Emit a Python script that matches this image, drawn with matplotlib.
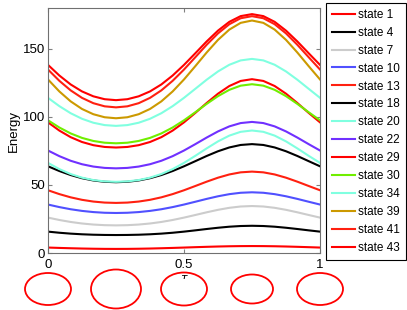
import matplotlib
matplotlib.use('Agg')
import matplotlib.pyplot as plt
from matplotlib.patches import Ellipse

plt.rcParams['font.family'] = ['Liberation Sans', 'DejaVu Sans']

# sample positions along the coordinate
x = [0, 0.0417, 0.0833, 0.125, 0.1667, 0.2083, 0.25, 0.2917, 0.3333,
     0.375, 0.4167, 0.4583, 0.5, 0.5417, 0.5833, 0.625, 0.6667, 0.7083,
     0.75, 0.7917, 0.8333, 0.875, 0.9167, 0.9583, 1]

# energy of each state
state_1 = [4.0, 3.73, 3.49, 3.28, 3.13, 3.03, 3.0, 3.03, 3.13, 3.28, 3.49, 3.73, 4.0,
           4.28, 4.54, 4.77, 4.95, 5.06, 5.1, 5.06, 4.95, 4.77, 4.54, 4.28, 4.0]
state_4 = [15.7, 14.88, 14.23, 13.75, 13.43, 13.26, 13.2, 13.26, 13.43, 13.75, 14.23, 14.88, 15.7,
           16.64, 17.63, 18.55, 19.32, 19.82, 20.0, 19.82, 19.32, 18.55, 17.63, 16.64, 15.7]
state_7 = [26.0, 24.26, 22.80, 21.68, 20.90, 20.45, 20.3, 20.45, 20.90, 21.68, 22.80, 24.26, 26.0,
           27.93, 29.90, 31.72, 33.20, 34.17, 34.5, 34.17, 33.20, 31.72, 29.90, 27.93, 26.0]
state_10 = [35.6, 33.73, 32.15, 30.93, 30.07, 29.56, 29.4, 29.56, 30.07, 30.93, 32.15, 33.73, 35.6,
            37.66, 39.75, 41.67, 43.23, 44.25, 44.6, 44.25, 43.23, 41.67, 39.75, 37.66, 35.6]
state_13 = [46.1, 43.27, 40.90, 39.07, 37.79, 37.04, 36.8, 37.04, 37.79, 39.07, 40.90, 43.27, 46.1,
            49.23, 52.40, 55.33, 57.71, 59.26, 59.8, 59.26, 57.71, 55.33, 52.40, 49.23, 46.1]
state_18 = [63.7, 60.23, 57.28, 54.95, 53.30, 52.32, 52.0, 52.32, 53.30, 54.95, 57.28, 60.23, 63.7,
            67.48, 71.28, 74.75, 77.55, 79.37, 80.0, 79.37, 77.55, 74.75, 71.28, 67.48, 63.7]
state_20 = [66.2, 61.65, 58.01, 55.35, 53.59, 52.61, 52.3, 52.61, 53.59, 55.35, 58.01, 61.65, 66.2,
            71.41, 76.86, 82.00, 86.24, 89.03, 90.0, 89.03, 86.24, 82.00, 76.86, 71.41, 66.2]
state_22 = [75.3, 71.15, 67.76, 65.22, 63.50, 62.52, 62.2, 62.52, 63.50, 65.22, 67.76, 71.15, 75.3,
            79.98, 84.81, 89.33, 93.03, 95.46, 96.3, 95.46, 93.03, 89.33, 84.81, 79.98, 75.3]
state_29 = [96.0, 89.94, 85.10, 81.55, 79.21, 77.91, 77.5, 77.91, 79.21, 81.55, 85.10, 89.94, 96.0,
            102.94, 110.20, 117.05, 122.69, 126.41, 127.7, 126.41, 122.69, 117.05, 110.20, 102.94, 96.0]
state_30 = [97.5, 92.20, 87.85, 84.56, 82.31, 81.02, 80.6, 81.02, 82.31, 84.56, 87.85, 92.20, 97.5,
            103.44, 109.55, 115.24, 119.89, 122.94, 124.0, 122.94, 119.89, 115.24, 109.55, 103.44, 97.5]
state_34 = [114.0, 107.90, 102.70, 98.61, 95.70, 93.97, 93.4, 93.97, 95.70, 98.61, 102.70, 107.90, 114.0,
            120.64, 127.30, 133.39, 138.30, 141.50, 142.6, 141.50, 138.30, 133.39, 127.30, 120.64, 114.0]
state_39 = [127.5, 118.70, 111.40, 105.82, 101.96, 99.73, 99.0, 99.73, 101.96, 105.82, 111.40, 118.70, 127.5,
            137.29, 147.30, 156.58, 164.14, 169.08, 170.8, 169.08, 164.14, 156.58, 147.30, 137.29, 127.5]
state_41 = [134.8, 126.51, 119.48, 113.97, 110.06, 107.76, 107.0, 107.76, 110.06, 113.97, 119.48, 126.51, 134.8,
            143.86, 152.98, 161.34, 168.09, 172.48, 174.0, 172.48, 168.09, 161.34, 152.98, 143.86, 134.8]
state_43 = [138.2, 130.40, 123.83, 118.71, 115.11, 112.99, 112.3, 112.99, 115.11, 118.71, 123.83, 130.40, 138.2,
            146.77, 155.43, 163.39, 169.84, 174.04, 175.5, 174.04, 169.84, 163.39, 155.43, 146.77, 138.2]

labels = ['state 1', 'state 4', 'state 7', 'state 10', 'state 13', 'state 18',
          'state 20', 'state 22', 'state 29', 'state 30', 'state 34',
          'state 39', 'state 41', 'state 43']
series = [state_1, state_4, state_7, state_10, state_13, state_18, state_20,
          state_22, state_29, state_30, state_34, state_39, state_41, state_43]
colors = ['#ff0000', '#000000', '#cccccc', '#5050ff', '#ff2010', '#000000',
          '#80ffe0', '#7030ff', '#ff0000', '#70ee00', '#80ffe0', '#cc9900',
          '#ff2010', '#ff0000']

# shape sketches under the axis
shape_x = [0, 0.25, 0.5, 0.75, 1]
shape_w = [46, 50, 46, 42, 46]
shape_h = [32, 39, 33, 29, 32]

W, H = 407, 310
fig = plt.figure(figsize=(W / 100, H / 100), dpi=100)
ax = fig.add_axes([48 / W, 1 - 253 / H, 272 / W, 245 / H])

for yv, lab, c in zip(series, labels, colors):
    ax.plot(x, yv, color=c, lw=1.5, label=lab)

ax.set_xlim(0, 1)
ax.set_ylim(0, 180)
ax.set_xticks([0, 0.5, 1])
ax.set_xticklabels(['0', '0.5', '1'])
ax.set_yticks([0, 50, 100, 150])
ax.tick_params(direction='in', length=3, labelsize=9.5, top=True, right=True,
               color='#808080', pad=2)
ax.tick_params(axis='x', pad=4.5)
for s in ax.spines.values():
    s.set_color('#707070')
    s.set_linewidth(0.8)
ax.set_ylabel('Energy', fontsize=9.5, labelpad=2)
ax.set_xlabel(r'$\tau$', fontsize=8)
ax.xaxis.set_label_coords(0.5, -20 / 245)

leg = ax.legend(loc='upper left', bbox_to_anchor=(326 / W, 1 - 3 / H),
                bbox_transform=fig.transFigure, borderaxespad=0,
                fontsize=8.5, handlelength=1.95, handletextpad=0.25,
                labelspacing=0.5, borderpad=0.5, fancybox=False,
                framealpha=1)
leg.get_frame().set_edgecolor('black')
leg.get_frame().set_linewidth(0.8)

# white strip holding the shapes, it hides most of the axis label
sx = fig.add_axes([48 / W, 0, 272 / W, 31 / H])
sx.set_xlim(0, 1)
sx.set_ylim(-21, 10)
sx.set_xticks([])
sx.set_yticks([])
for s in sx.spines.values():
    s.set_visible(False)
sx.set_facecolor('white')
for xc, w, h in zip(shape_x, shape_w, shape_h):
    sx.add_patch(Ellipse((xc, 0), w / 272, h, fill=False, ec='red', lw=1.3,
                         clip_on=False))

fig.savefig('out.png', dpi=100)
